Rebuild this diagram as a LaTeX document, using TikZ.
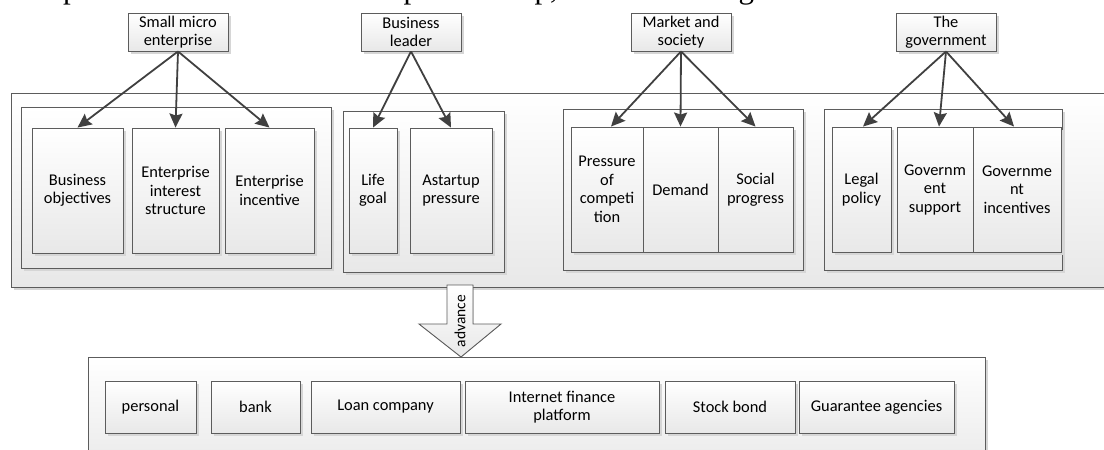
\documentclass[tikz,border=0pt]{standalone}
\usepackage{fontspec}
\setmainfont{Carlito}
\newfontfamily\captionfont{Liberation Serif}
\usepackage{tikz}
\usetikzlibrary{shapes}
\usetikzlibrary{shadows}
\usetikzlibrary{arrows.meta}
\pgfdeclarelayer{backlayer}
\pgfdeclarelayer{nodelayer}
\pgfdeclarelayer{edgelayer}
\pgfsetlayers{backlayer,main,nodelayer,edgelayer}
\definecolor{boxline}{rgb}{0.36,0.36,0.36}
\definecolor{boxfill}{rgb}{0.91,0.91,0.91}
\definecolor{arrowgray}{rgb}{0.25,0.25,0.25}
\tikzstyle{none}=[inner sep=0pt]
\tikzstyle{panel}=[rectangle, draw=boxline, line width=0.9pt, top color=white, bottom color=boxfill, inner sep=0pt, drop shadow={shadow xshift=2.5pt, shadow yshift=-2.5pt, fill=black!16, opacity=1}]
\tikzstyle{itembox}=[panel, align=center, font=\fontsize{16.4}{18.5}\selectfont]
\tikzstyle{pointer}=[-{Stealth[length=14pt,width=13pt,inset=2pt]}, draw=arrowgray, line width=1.8pt]

\begin{document}
\begin{tikzpicture}[x=1pt, y=-1pt]
	\useasboundingbox (0,0) rectangle (1104,450);
	\node [style=none, anchor=base west, font=\captionfont\fontsize{31}{36}\selectfont] (caption) at (1,-2) {enterprises' innovation and entrepreneurship, as shown in figure 1.};
	\begin{pgfonlayer}{backlayer}
		% containers
		\node [style=panel, minimum width=1200pt, minimum height=194pt] (outer) at (611,190) {};
		\node [style=panel, minimum width=310pt, minimum height=161pt] (group1) at (176,187.5) {};
		\node [style=panel, minimum width=161pt, minimum height=161pt] (group2) at (423.5,191.5) {};
		\node [style=panel, minimum width=240pt, minimum height=161pt] (group3) at (683,189.5) {};
		\node [style=panel, minimum width=238pt, minimum height=161pt] (group4) at (943,189.5) {};
		\node [style=panel, minimum width=897pt, minimum height=120pt] (lower) at (536.5,417) {};
	\end{pgfonlayer}
	\begin{pgfonlayer}{nodelayer}
		% top actors
		\node [style=itembox, minimum width=100pt, minimum height=38pt] (smallmicro) at (178,32) {Small micro\\enterprise};
		\node [style=itembox, minimum width=100pt, minimum height=38pt] (leader) at (411,32) {Business\\leader};
		\node [style=itembox, minimum width=100pt, minimum height=38pt] (market) at (681,32) {Market and\\society};
		\node [style=itembox, minimum width=100pt, minimum height=38pt] (government) at (946,32) {The\\government};
		% factors
		\node [style=itembox, minimum width=91pt, minimum height=125pt] (objectives) at (77.5,190.5) {Business\\objectives};
		\node [style=itembox, minimum width=87pt, minimum height=125pt] (structure) at (175.5,190.5) {Enterprise\\interest\\structure};
		\node [style=itembox, minimum width=89pt, minimum height=125pt] (incentive) at (269.5,190.5) {Enterprise\\incentive};
		\node [style=itembox, minimum width=48pt, minimum height=125pt] (lifegoal) at (373,190.5) {Life\\goal};
		\node [style=itembox, minimum width=82pt, minimum height=125pt] (astartup) at (451,190.5) {Astartup\\pressure};
		\node [style=itembox, minimum width=72pt, minimum height=125pt] (competition) at (607,189.5) {Pressure\\of\\competi\\tion};
		\node [style=itembox, minimum width=75pt, minimum height=125pt] (demand) at (680.5,189.5) {Demand};
		\node [style=itembox, minimum width=75pt, minimum height=125pt] (progress) at (755.5,189.5) {Social\\progress};
		\node [style=itembox, minimum width=59pt, minimum height=125pt] (legal) at (861.5,189.5) {Legal\\policy};
		\node [style=itembox, minimum width=76pt, minimum height=125pt] (support) at (935,189.5) {Governm\\ent\\support};
		\node [style=itembox, minimum width=88pt, minimum height=125pt] (govincentives) at (1017,189.5) {Governme\\nt\\incentives};
		% financing channels
		\node [style=itembox, minimum width=91pt, minimum height=52pt] (personal) at (150.5,407) {personal};
		\node [style=itembox, minimum width=89pt, minimum height=52pt] (bank) at (255.5,407) {bank};
		\node [style=itembox, minimum width=149pt, minimum height=52pt] (loan) at (385.5,407) {Loan company};
		\node [style=itembox, minimum width=194pt, minimum height=52pt] (internet) at (562,407) {Internet finance\\platform};
		\node [style=itembox, minimum width=130pt, minimum height=52pt] (stock) at (730,407) {Stock bond};
		\node [style=itembox, minimum width=155pt, minimum height=52pt] (guarantee) at (876.5,407) {Guarantee agencies};
		% advance arrow
		\filldraw [draw=boxline, line width=0.9pt, top color=white, bottom color=boxfill] (447,285) -- (473,285) -- (473,324) -- (501,324) -- (461,357) -- (419,324) -- (447,324) -- cycle;
		\node [style=none, rotate=90, font=\fontsize{15.5}{18}\selectfont] (advance) at (460,321) {advance};
	\end{pgfonlayer}
	\begin{pgfonlayer}{edgelayer}
		\draw [style=pointer] (smallmicro.south) to (objectives.north);
		\draw [style=pointer] (smallmicro.south) to (structure.north);
		\draw [style=pointer] (smallmicro.south) to (incentive.north);
		\draw [style=pointer] (leader.south) to (lifegoal.north);
		\draw [style=pointer] (leader.south) to (astartup.north);
		\draw [style=pointer] (market.south) to ([xshift=4pt]competition.north);
		\draw [style=pointer] (market.south) to (demand.north);
		\draw [style=pointer] (market.south) to (progress.north);
		\draw [style=pointer] (government.south) to ([xshift=1.5pt]legal.north);
		\draw [style=pointer] (government.south) to ([xshift=4pt]support.north);
		\draw [style=pointer] (government.south) to ([xshift=-3pt]govincentives.north);
	\end{pgfonlayer}
\end{tikzpicture}
\end{document}
